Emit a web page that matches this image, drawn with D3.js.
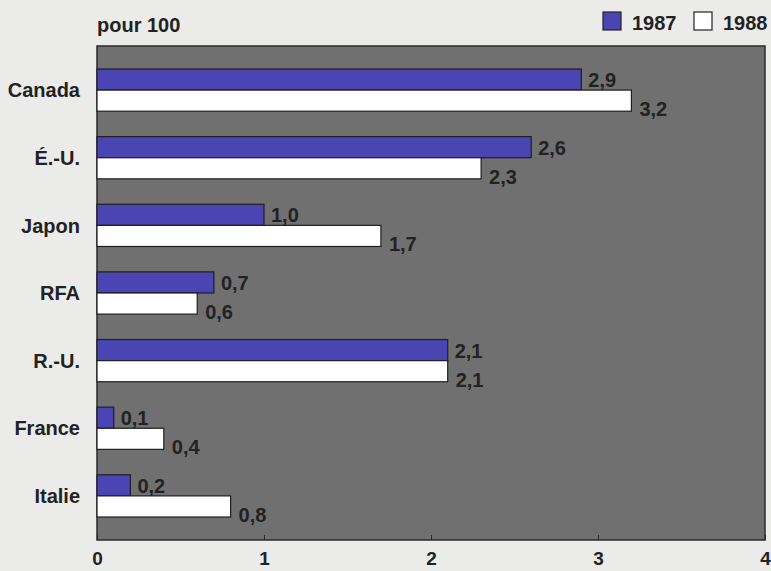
<!DOCTYPE html>
<html>
<head>
<meta charset="utf-8">
<script src="https://cdn.jsdelivr.net/npm/d3@7"></script>
<style>
  body { margin: 0; background: #ebebea; }
  svg text { font-family: "Liberation Sans", Arial, sans-serif; font-weight: bold; fill: #222; }
</style>
</head>
<body>
<div id="chart"></div>
<script>
// data (pour 100)
const countries = ["Canada", "É.-U.", "Japon", "RFA", "R.-U.", "France", "Italie"];
const values1987 = [2.9, 2.6, 1.0, 0.7, 2.1, 0.1, 0.2];
const values1988 = [3.2, 2.3, 1.7, 0.6, 2.1, 0.4, 0.8];
const years = ["1987", "1988"];
const xTicks = [0, 1, 2, 3, 4];

const width = 771, height = 571;
const margin = { top: 46, right: 6, bottom: 31, left: 97 };
const colors = { "1987": "#4a45b2", "1988": "#ffffff" };

const svg = d3.select("#chart").append("svg")
  .attr("width", width)
  .attr("height", height);

const x = d3.scaleLinear().domain([0, 4]).range([margin.left, width - margin.right]);
const y = d3.scaleBand().domain(countries)
  .range([margin.top, height - margin.bottom])
  .paddingInner(0.376)
  .paddingOuter(0.34);
const ySub = d3.scaleBand().domain(years).range([0, y.bandwidth()]);

const fmt = v => d3.format(".1f")(v).replace(".", ",");

// plot background
svg.append("rect")
  .attr("x", x(0))
  .attr("y", margin.top)
  .attr("width", x(4) - x(0))
  .attr("height", height - margin.bottom - margin.top)
  .attr("fill", "#707070")
  .attr("stroke", "#2a2a2a")
  .attr("stroke-width", 1.5);

const rows = countries.map((c, i) => ({ country: c, v: { "1987": values1987[i], "1988": values1988[i] } }));

const g = svg.append("g").selectAll("g")
  .data(rows)
  .join("g")
  .attr("transform", d => `translate(0,${y(d.country)})`);

years.forEach(yr => {
  g.append("rect")
    .attr("x", x(0))
    .attr("y", ySub(yr))
    .attr("width", d => x(d.v[yr]) - x(0))
    .attr("height", ySub.bandwidth())
    .attr("fill", colors[yr])
    .attr("stroke", "#1e1e1e")
    .attr("stroke-width", 1.2);

  g.append("text")
    .attr("x", d => x(d.v[yr]) + (yr === "1987" ? 7 : 8))
    .attr("y", ySub(yr) + ySub.bandwidth() + (yr === "1987" ? -3 : 5))
    .attr("font-size", 20)
    .text(d => fmt(d.v[yr]));
});

// category labels
g.append("text")
  .attr("x", 80)
  .attr("y", y.bandwidth() / 2)
  .attr("dy", "0.36em")
  .attr("text-anchor", "end")
  .attr("font-size", 20)
  .text(d => d.country);

// x axis
const axis = svg.append("g")
  .attr("transform", `translate(0,${height - margin.bottom})`)
  .call(d3.axisBottom(x).tickValues(xTicks).tickFormat(d3.format("d")).tickSize(-5).tickPadding(12));
axis.select(".domain").remove();
axis.selectAll("line").attr("stroke", "#2a2a2a");
axis.selectAll("text").attr("font-size", 19).attr("fill", "#222")
  .attr("font-family", "\"Liberation Sans\", Arial, sans-serif")
  .attr("font-weight", "bold");

// unit label
svg.append("text")
  .attr("x", x(0))
  .attr("y", 32)
  .attr("font-size", 20)
  .text("pour 100");

// legend
const legend = svg.append("g");
const legendItems = [{ yr: "1987", x: 603 }, { yr: "1988", x: 694 }];
legend.selectAll("rect")
  .data(legendItems)
  .join("rect")
  .attr("x", d => d.x)
  .attr("y", 12)
  .attr("width", 18)
  .attr("height", 18)
  .attr("fill", d => colors[d.yr])
  .attr("stroke", "#222")
  .attr("stroke-width", 1.2);
legend.selectAll("text")
  .data(legendItems)
  .join("text")
  .attr("x", d => d.x + 29)
  .attr("y", 30)
  .attr("font-size", 20)
  .text(d => d.yr);
</script>
</body>
</html>
